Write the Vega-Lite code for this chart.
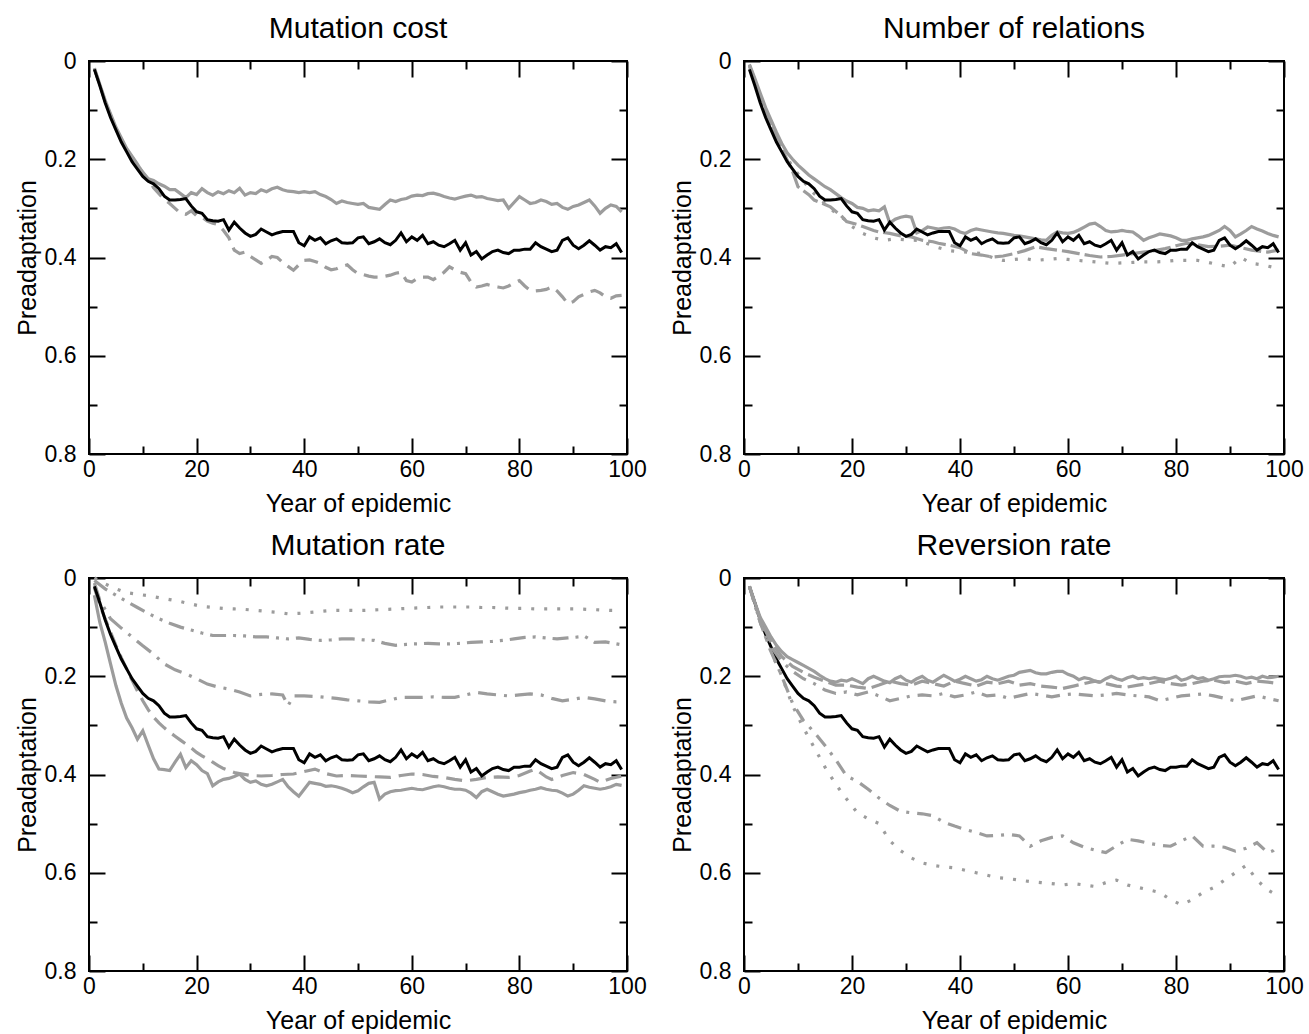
{
"$schema":"https://vega.github.io/schema/vega-lite/v6.json",
"padding":{"left":14,"top":13,"right":5,"bottom":0},
"config":{"font":"Liberation Sans","view":{"stroke":"black","strokeWidth":2},
"axis":{"domain":false,"grid":false,"tickColor":"black","tickWidth":2,"labelFont":"Liberation Sans","labelFontSize":23,"labelColor":"black","titleFont":"Liberation Sans","titleFontSize":25,"titleFontWeight":"normal","titleColor":"black","labelOverlap":false,"labelFlush":false},
"title":{"font":"Liberation Sans","fontSize":30,"fontWeight":"normal","color":"black","offset":6}},
"datasets":{
"base":[{"x":1,"y":0.017},{"x":2,"y":0.05},{"x":3,"y":0.085},{"x":4,"y":0.115},{"x":5,"y":0.14},{"x":6,"y":0.165},{"x":7,"y":0.185},{"x":8,"y":0.205},{"x":9,"y":0.22},{"x":10,"y":0.235},{"x":11,"y":0.245},{"x":12,"y":0.25},{"x":13,"y":0.26},{"x":14,"y":0.275},{"x":15,"y":0.283},{"x":16,"y":0.283},{"x":17,"y":0.282},{"x":18,"y":0.28},{"x":19,"y":0.295},{"x":20,"y":0.307},{"x":21,"y":0.31},{"x":22,"y":0.323},{"x":23,"y":0.325},{"x":24,"y":0.326},{"x":25,"y":0.323},{"x":26,"y":0.344},{"x":27,"y":0.328},{"x":28,"y":0.34},{"x":29,"y":0.35},{"x":30,"y":0.357},{"x":31,"y":0.353},{"x":32,"y":0.342},{"x":33,"y":0.348},{"x":34,"y":0.354},{"x":35,"y":0.35},{"x":36,"y":0.347},{"x":37,"y":0.347},{"x":38,"y":0.347},{"x":39,"y":0.37},{"x":40,"y":0.376},{"x":41,"y":0.358},{"x":42,"y":0.365},{"x":43,"y":0.36},{"x":44,"y":0.372},{"x":45,"y":0.366},{"x":46,"y":0.362},{"x":47,"y":0.37},{"x":48,"y":0.371},{"x":49,"y":0.37},{"x":50,"y":0.36},{"x":51,"y":0.358},{"x":52,"y":0.372},{"x":53,"y":0.368},{"x":54,"y":0.362},{"x":55,"y":0.37},{"x":56,"y":0.374},{"x":57,"y":0.365},{"x":58,"y":0.35},{"x":59,"y":0.368},{"x":60,"y":0.358},{"x":61,"y":0.365},{"x":62,"y":0.355},{"x":63,"y":0.372},{"x":64,"y":0.368},{"x":65,"y":0.375},{"x":66,"y":0.378},{"x":67,"y":0.372},{"x":68,"y":0.365},{"x":69,"y":0.385},{"x":70,"y":0.37},{"x":71,"y":0.395},{"x":72,"y":0.388},{"x":73,"y":0.403},{"x":74,"y":0.395},{"x":75,"y":0.388},{"x":76,"y":0.385},{"x":77,"y":0.39},{"x":78,"y":0.392},{"x":79,"y":0.385},{"x":80,"y":0.385},{"x":81,"y":0.383},{"x":82,"y":0.383},{"x":83,"y":0.37},{"x":84,"y":0.378},{"x":85,"y":0.383},{"x":86,"y":0.388},{"x":87,"y":0.385},{"x":88,"y":0.365},{"x":89,"y":0.36},{"x":90,"y":0.375},{"x":91,"y":0.382},{"x":92,"y":0.375},{"x":93,"y":0.366},{"x":94,"y":0.375},{"x":95,"y":0.385},{"x":96,"y":0.378},{"x":97,"y":0.38},{"x":98,"y":0.372},{"x":99,"y":0.39}],
"p1":[
{"s":"a","x":1,"y":0.015},{"s":"a","x":3,"y":0.08},{"s":"a","x":5,"y":0.135},{"s":"a","x":7,"y":0.178},{"s":"a","x":9,"y":0.21},{"s":"a","x":10,"y":0.228},{"s":"a","x":11,"y":0.24},{"s":"a","x":12,"y":0.243},{"s":"a","x":13,"y":0.25},{"s":"a","x":14,"y":0.255},{"s":"a","x":15,"y":0.262},{"s":"a","x":16,"y":0.262},{"s":"a","x":17,"y":0.27},{"s":"a","x":18,"y":0.278},{"s":"a","x":19,"y":0.268},{"s":"a","x":20,"y":0.272},{"s":"a","x":21,"y":0.26},{"s":"a","x":22,"y":0.268},{"s":"a","x":23,"y":0.273},{"s":"a","x":24,"y":0.266},{"s":"a","x":25,"y":0.27},{"s":"a","x":26,"y":0.264},{"s":"a","x":27,"y":0.268},{"s":"a","x":28,"y":0.259},{"s":"a","x":29,"y":0.273},{"s":"a","x":30,"y":0.268},{"s":"a","x":31,"y":0.27},{"s":"a","x":32,"y":0.262},{"s":"a","x":33,"y":0.266},{"s":"a","x":34,"y":0.26},{"s":"a","x":35,"y":0.257},{"s":"a","x":36,"y":0.262},{"s":"a","x":37,"y":0.265},{"s":"a","x":38,"y":0.266},{"s":"a","x":39,"y":0.268},{"s":"a","x":40,"y":0.266},{"s":"a","x":41,"y":0.268},{"s":"a","x":42,"y":0.266},{"s":"a","x":43,"y":0.272},{"s":"a","x":44,"y":0.276},{"s":"a","x":45,"y":0.282},{"s":"a","x":46,"y":0.29},{"s":"a","x":47,"y":0.285},{"s":"a","x":48,"y":0.288},{"s":"a","x":49,"y":0.29},{"s":"a","x":50,"y":0.292},{"s":"a","x":51,"y":0.29},{"s":"a","x":52,"y":0.298},{"s":"a","x":53,"y":0.3},{"s":"a","x":54,"y":0.302},{"s":"a","x":55,"y":0.292},{"s":"a","x":56,"y":0.283},{"s":"a","x":57,"y":0.286},{"s":"a","x":58,"y":0.282},{"s":"a","x":59,"y":0.28},{"s":"a","x":60,"y":0.275},{"s":"a","x":61,"y":0.273},{"s":"a","x":62,"y":0.274},{"s":"a","x":63,"y":0.27},{"s":"a","x":64,"y":0.269},{"s":"a","x":65,"y":0.272},{"s":"a","x":66,"y":0.276},{"s":"a","x":67,"y":0.279},{"s":"a","x":68,"y":0.281},{"s":"a","x":69,"y":0.278},{"s":"a","x":70,"y":0.275},{"s":"a","x":71,"y":0.273},{"s":"a","x":72,"y":0.277},{"s":"a","x":73,"y":0.276},{"s":"a","x":74,"y":0.28},{"s":"a","x":75,"y":0.282},{"s":"a","x":76,"y":0.284},{"s":"a","x":77,"y":0.283},{"s":"a","x":78,"y":0.3},{"s":"a","x":79,"y":0.288},{"s":"a","x":80,"y":0.276},{"s":"a","x":81,"y":0.283},{"s":"a","x":82,"y":0.29},{"s":"a","x":83,"y":0.288},{"s":"a","x":84,"y":0.283},{"s":"a","x":85,"y":0.286},{"s":"a","x":86,"y":0.292},{"s":"a","x":87,"y":0.29},{"s":"a","x":88,"y":0.298},{"s":"a","x":89,"y":0.302},{"s":"a","x":90,"y":0.296},{"s":"a","x":91,"y":0.293},{"s":"a","x":92,"y":0.288},{"s":"a","x":93,"y":0.283},{"s":"a","x":94,"y":0.295},{"s":"a","x":95,"y":0.31},{"s":"a","x":96,"y":0.3},{"s":"a","x":97,"y":0.293},{"s":"a","x":98,"y":0.296},{"s":"a","x":99,"y":0.307},
{"s":"b","x":1,"y":0.015},{"s":"b","x":3,"y":0.082},{"s":"b","x":5,"y":0.138},{"s":"b","x":7,"y":0.18},{"s":"b","x":9,"y":0.212},{"s":"b","x":11,"y":0.24},{"s":"b","x":12,"y":0.258},{"s":"b","x":13,"y":0.27},{"s":"b","x":14,"y":0.282},{"s":"b","x":15,"y":0.29},{"s":"b","x":16,"y":0.3},{"s":"b","x":17,"y":0.31},{"s":"b","x":18,"y":0.312},{"s":"b","x":19,"y":0.305},{"s":"b","x":20,"y":0.315},{"s":"b","x":21,"y":0.318},{"s":"b","x":22,"y":0.326},{"s":"b","x":23,"y":0.33},{"s":"b","x":24,"y":0.333},{"s":"b","x":25,"y":0.345},{"s":"b","x":26,"y":0.36},{"s":"b","x":27,"y":0.385},{"s":"b","x":28,"y":0.392},{"s":"b","x":29,"y":0.389},{"s":"b","x":30,"y":0.398},{"s":"b","x":31,"y":0.405},{"s":"b","x":32,"y":0.412},{"s":"b","x":33,"y":0.406},{"s":"b","x":34,"y":0.398},{"s":"b","x":35,"y":0.4},{"s":"b","x":36,"y":0.41},{"s":"b","x":37,"y":0.418},{"s":"b","x":38,"y":0.426},{"s":"b","x":39,"y":0.415},{"s":"b","x":40,"y":0.406},{"s":"b","x":41,"y":0.405},{"s":"b","x":42,"y":0.408},{"s":"b","x":43,"y":0.412},{"s":"b","x":44,"y":0.42},{"s":"b","x":45,"y":0.425},{"s":"b","x":46,"y":0.423},{"s":"b","x":47,"y":0.418},{"s":"b","x":48,"y":0.415},{"s":"b","x":49,"y":0.425},{"s":"b","x":50,"y":0.433},{"s":"b","x":51,"y":0.435},{"s":"b","x":52,"y":0.438},{"s":"b","x":53,"y":0.44},{"s":"b","x":54,"y":0.44},{"s":"b","x":55,"y":0.438},{"s":"b","x":56,"y":0.436},{"s":"b","x":57,"y":0.432},{"s":"b","x":58,"y":0.43},{"s":"b","x":59,"y":0.447},{"s":"b","x":60,"y":0.45},{"s":"b","x":61,"y":0.443},{"s":"b","x":62,"y":0.44},{"s":"b","x":63,"y":0.44},{"s":"b","x":64,"y":0.445},{"s":"b","x":65,"y":0.438},{"s":"b","x":66,"y":0.43},{"s":"b","x":67,"y":0.419},{"s":"b","x":68,"y":0.425},{"s":"b","x":69,"y":0.43},{"s":"b","x":70,"y":0.433},{"s":"b","x":71,"y":0.45},{"s":"b","x":72,"y":0.46},{"s":"b","x":73,"y":0.458},{"s":"b","x":74,"y":0.455},{"s":"b","x":75,"y":0.458},{"s":"b","x":76,"y":0.46},{"s":"b","x":77,"y":0.462},{"s":"b","x":78,"y":0.458},{"s":"b","x":79,"y":0.452},{"s":"b","x":80,"y":0.447},{"s":"b","x":81,"y":0.458},{"s":"b","x":82,"y":0.467},{"s":"b","x":83,"y":0.468},{"s":"b","x":84,"y":0.467},{"s":"b","x":85,"y":0.465},{"s":"b","x":86,"y":0.46},{"s":"b","x":87,"y":0.468},{"s":"b","x":88,"y":0.48},{"s":"b","x":89,"y":0.494},{"s":"b","x":90,"y":0.49},{"s":"b","x":91,"y":0.48},{"s":"b","x":92,"y":0.475},{"s":"b","x":93,"y":0.47},{"s":"b","x":94,"y":0.467},{"s":"b","x":95,"y":0.472},{"s":"b","x":96,"y":0.48},{"s":"b","x":97,"y":0.483},{"s":"b","x":98,"y":0.478},{"s":"b","x":99,"y":0.477}],
"p2":[
{"s":"a","x":1,"y":0.007},{"s":"a","x":2,"y":0.035},{"s":"a","x":3,"y":0.065},{"s":"a","x":4,"y":0.095},{"s":"a","x":5,"y":0.12},{"s":"a","x":6,"y":0.145},{"s":"a","x":7,"y":0.168},{"s":"a","x":8,"y":0.187},{"s":"a","x":9,"y":0.2},{"s":"a","x":10,"y":0.212},{"s":"a","x":11,"y":0.222},{"s":"a","x":12,"y":0.232},{"s":"a","x":13,"y":0.24},{"s":"a","x":14,"y":0.248},{"s":"a","x":15,"y":0.256},{"s":"a","x":16,"y":0.262},{"s":"a","x":17,"y":0.27},{"s":"a","x":18,"y":0.278},{"s":"a","x":19,"y":0.285},{"s":"a","x":20,"y":0.29},{"s":"a","x":21,"y":0.298},{"s":"a","x":22,"y":0.3},{"s":"a","x":23,"y":0.305},{"s":"a","x":24,"y":0.303},{"s":"a","x":25,"y":0.305},{"s":"a","x":26,"y":0.297},{"s":"a","x":27,"y":0.33},{"s":"a","x":28,"y":0.322},{"s":"a","x":29,"y":0.318},{"s":"a","x":30,"y":0.316},{"s":"a","x":31,"y":0.318},{"s":"a","x":32,"y":0.35},{"s":"a","x":33,"y":0.345},{"s":"a","x":34,"y":0.338},{"s":"a","x":35,"y":0.34},{"s":"a","x":36,"y":0.342},{"s":"a","x":37,"y":0.34},{"s":"a","x":38,"y":0.339},{"s":"a","x":39,"y":0.342},{"s":"a","x":40,"y":0.348},{"s":"a","x":41,"y":0.351},{"s":"a","x":42,"y":0.345},{"s":"a","x":43,"y":0.342},{"s":"a","x":44,"y":0.344},{"s":"a","x":45,"y":0.346},{"s":"a","x":46,"y":0.348},{"s":"a","x":47,"y":0.35},{"s":"a","x":48,"y":0.351},{"s":"a","x":49,"y":0.353},{"s":"a","x":50,"y":0.355},{"s":"a","x":51,"y":0.356},{"s":"a","x":52,"y":0.358},{"s":"a","x":53,"y":0.36},{"s":"a","x":54,"y":0.362},{"s":"a","x":55,"y":0.364},{"s":"a","x":56,"y":0.365},{"s":"a","x":57,"y":0.355},{"s":"a","x":58,"y":0.348},{"s":"a","x":59,"y":0.35},{"s":"a","x":60,"y":0.351},{"s":"a","x":61,"y":0.349},{"s":"a","x":62,"y":0.344},{"s":"a","x":63,"y":0.338},{"s":"a","x":64,"y":0.332},{"s":"a","x":65,"y":0.33},{"s":"a","x":66,"y":0.337},{"s":"a","x":67,"y":0.345},{"s":"a","x":68,"y":0.348},{"s":"a","x":69,"y":0.347},{"s":"a","x":70,"y":0.345},{"s":"a","x":71,"y":0.347},{"s":"a","x":72,"y":0.348},{"s":"a","x":73,"y":0.356},{"s":"a","x":74,"y":0.365},{"s":"a","x":75,"y":0.36},{"s":"a","x":76,"y":0.356},{"s":"a","x":77,"y":0.352},{"s":"a","x":78,"y":0.354},{"s":"a","x":79,"y":0.356},{"s":"a","x":80,"y":0.36},{"s":"a","x":81,"y":0.365},{"s":"a","x":82,"y":0.365},{"s":"a","x":83,"y":0.362},{"s":"a","x":84,"y":0.36},{"s":"a","x":85,"y":0.358},{"s":"a","x":86,"y":0.355},{"s":"a","x":87,"y":0.35},{"s":"a","x":88,"y":0.345},{"s":"a","x":89,"y":0.337},{"s":"a","x":90,"y":0.345},{"s":"a","x":91,"y":0.358},{"s":"a","x":92,"y":0.352},{"s":"a","x":93,"y":0.345},{"s":"a","x":94,"y":0.337},{"s":"a","x":95,"y":0.342},{"s":"a","x":96,"y":0.346},{"s":"a","x":97,"y":0.351},{"s":"a","x":98,"y":0.355},{"s":"a","x":99,"y":0.358},
{"s":"b","x":1,"y":0.008},{"s":"b","x":3,"y":0.07},{"s":"b","x":5,"y":0.13},{"s":"b","x":7,"y":0.178},{"s":"b","x":9,"y":0.225},{"s":"b","x":10,"y":0.256},{"s":"b","x":12,"y":0.272},{"s":"b","x":13,"y":0.283},{"s":"b","x":15,"y":0.292},{"s":"b","x":16,"y":0.297},{"s":"b","x":18,"y":0.315},{"s":"b","x":19,"y":0.327},{"s":"b","x":21,"y":0.333},{"s":"b","x":22,"y":0.337},{"s":"b","x":24,"y":0.345},{"s":"b","x":25,"y":0.348},{"s":"b","x":27,"y":0.351},{"s":"b","x":29,"y":0.356},{"s":"b","x":31,"y":0.358},{"s":"b","x":33,"y":0.365},{"s":"b","x":35,"y":0.368},{"s":"b","x":36,"y":0.371},{"s":"b","x":38,"y":0.375},{"s":"b","x":40,"y":0.38},{"s":"b","x":42,"y":0.392},{"s":"b","x":44,"y":0.395},{"s":"b","x":46,"y":0.399},{"s":"b","x":48,"y":0.397},{"s":"b","x":50,"y":0.392},{"s":"b","x":52,"y":0.386},{"s":"b","x":54,"y":0.378},{"s":"b","x":56,"y":0.382},{"s":"b","x":58,"y":0.385},{"s":"b","x":60,"y":0.388},{"s":"b","x":62,"y":0.392},{"s":"b","x":64,"y":0.396},{"s":"b","x":66,"y":0.399},{"s":"b","x":68,"y":0.398},{"s":"b","x":70,"y":0.395},{"s":"b","x":72,"y":0.392},{"s":"b","x":74,"y":0.389},{"s":"b","x":76,"y":0.386},{"s":"b","x":78,"y":0.382},{"s":"b","x":80,"y":0.376},{"s":"b","x":82,"y":0.371},{"s":"b","x":84,"y":0.374},{"s":"b","x":86,"y":0.378},{"s":"b","x":88,"y":0.377},{"s":"b","x":90,"y":0.375},{"s":"b","x":92,"y":0.38},{"s":"b","x":94,"y":0.385},{"s":"b","x":96,"y":0.388},{"s":"b","x":97,"y":0.389},{"s":"b","x":99,"y":0.385},
{"s":"c","x":1,"y":0.01},{"s":"c","x":3,"y":0.075},{"s":"c","x":5,"y":0.135},{"s":"c","x":7,"y":0.18},{"s":"c","x":9,"y":0.215},{"s":"c","x":11,"y":0.245},{"s":"c","x":13,"y":0.27},{"s":"c","x":15,"y":0.29},{"s":"c","x":17,"y":0.31},{"s":"c","x":19,"y":0.325},{"s":"c","x":20,"y":0.337},{"s":"c","x":22,"y":0.351},{"s":"c","x":24,"y":0.36},{"s":"c","x":26,"y":0.365},{"s":"c","x":28,"y":0.362},{"s":"c","x":30,"y":0.364},{"s":"c","x":32,"y":0.365},{"s":"c","x":34,"y":0.372},{"s":"c","x":36,"y":0.38},{"s":"c","x":38,"y":0.386},{"s":"c","x":40,"y":0.388},{"s":"c","x":42,"y":0.39},{"s":"c","x":44,"y":0.392},{"s":"c","x":46,"y":0.4},{"s":"c","x":48,"y":0.406},{"s":"c","x":50,"y":0.404},{"s":"c","x":52,"y":0.402},{"s":"c","x":54,"y":0.406},{"s":"c","x":56,"y":0.404},{"s":"c","x":58,"y":0.402},{"s":"c","x":60,"y":0.404},{"s":"c","x":62,"y":0.406},{"s":"c","x":64,"y":0.408},{"s":"c","x":66,"y":0.41},{"s":"c","x":68,"y":0.412},{"s":"c","x":70,"y":0.411},{"s":"c","x":72,"y":0.41},{"s":"c","x":74,"y":0.409},{"s":"c","x":76,"y":0.409},{"s":"c","x":78,"y":0.408},{"s":"c","x":80,"y":0.406},{"s":"c","x":82,"y":0.406},{"s":"c","x":84,"y":0.406},{"s":"c","x":86,"y":0.41},{"s":"c","x":88,"y":0.415},{"s":"c","x":90,"y":0.419},{"s":"c","x":92,"y":0.4},{"s":"c","x":94,"y":0.412},{"s":"c","x":96,"y":0.415},{"s":"c","x":98,"y":0.42},{"s":"c","x":99,"y":0.426}],
"p3":[
{"s":"a","x":1,"y":0.0},{"s":"a","x":3,"y":0.012},{"s":"a","x":5,"y":0.022},{"s":"a","x":7,"y":0.03},{"s":"a","x":9,"y":0.033},{"s":"a","x":11,"y":0.036},{"s":"a","x":13,"y":0.04},{"s":"a","x":15,"y":0.044},{"s":"a","x":17,"y":0.048},{"s":"a","x":19,"y":0.053},{"s":"a","x":21,"y":0.058},{"s":"a","x":23,"y":0.06},{"s":"a","x":25,"y":0.062},{"s":"a","x":27,"y":0.063},{"s":"a","x":29,"y":0.064},{"s":"a","x":31,"y":0.066},{"s":"a","x":33,"y":0.068},{"s":"a","x":35,"y":0.07},{"s":"a","x":37,"y":0.073},{"s":"a","x":39,"y":0.072},{"s":"a","x":41,"y":0.07},{"s":"a","x":43,"y":0.068},{"s":"a","x":45,"y":0.066},{"s":"a","x":47,"y":0.066},{"s":"a","x":49,"y":0.066},{"s":"a","x":51,"y":0.066},{"s":"a","x":53,"y":0.065},{"s":"a","x":55,"y":0.064},{"s":"a","x":57,"y":0.063},{"s":"a","x":59,"y":0.062},{"s":"a","x":61,"y":0.061},{"s":"a","x":63,"y":0.06},{"s":"a","x":65,"y":0.059},{"s":"a","x":67,"y":0.059},{"s":"a","x":69,"y":0.059},{"s":"a","x":71,"y":0.059},{"s":"a","x":73,"y":0.06},{"s":"a","x":75,"y":0.06},{"s":"a","x":77,"y":0.061},{"s":"a","x":79,"y":0.062},{"s":"a","x":81,"y":0.062},{"s":"a","x":83,"y":0.063},{"s":"a","x":85,"y":0.063},{"s":"a","x":87,"y":0.063},{"s":"a","x":89,"y":0.063},{"s":"a","x":91,"y":0.063},{"s":"a","x":93,"y":0.064},{"s":"a","x":95,"y":0.065},{"s":"a","x":97,"y":0.066},{"s":"a","x":99,"y":0.066},
{"s":"b","x":1,"y":0.005},{"s":"b","x":3,"y":0.022},{"s":"b","x":5,"y":0.035},{"s":"b","x":7,"y":0.048},{"s":"b","x":9,"y":0.06},{"s":"b","x":11,"y":0.072},{"s":"b","x":13,"y":0.083},{"s":"b","x":15,"y":0.092},{"s":"b","x":17,"y":0.1},{"s":"b","x":19,"y":0.106},{"s":"b","x":21,"y":0.112},{"s":"b","x":23,"y":0.117},{"s":"b","x":25,"y":0.117},{"s":"b","x":27,"y":0.117},{"s":"b","x":29,"y":0.118},{"s":"b","x":31,"y":0.12},{"s":"b","x":33,"y":0.12},{"s":"b","x":35,"y":0.122},{"s":"b","x":37,"y":0.124},{"s":"b","x":39,"y":0.122},{"s":"b","x":41,"y":0.125},{"s":"b","x":43,"y":0.127},{"s":"b","x":45,"y":0.126},{"s":"b","x":47,"y":0.124},{"s":"b","x":49,"y":0.124},{"s":"b","x":51,"y":0.126},{"s":"b","x":53,"y":0.127},{"s":"b","x":55,"y":0.133},{"s":"b","x":57,"y":0.137},{"s":"b","x":59,"y":0.135},{"s":"b","x":61,"y":0.134},{"s":"b","x":63,"y":0.133},{"s":"b","x":65,"y":0.134},{"s":"b","x":67,"y":0.134},{"s":"b","x":69,"y":0.133},{"s":"b","x":71,"y":0.131},{"s":"b","x":73,"y":0.13},{"s":"b","x":75,"y":0.129},{"s":"b","x":77,"y":0.127},{"s":"b","x":79,"y":0.124},{"s":"b","x":81,"y":0.121},{"s":"b","x":83,"y":0.12},{"s":"b","x":85,"y":0.122},{"s":"b","x":87,"y":0.124},{"s":"b","x":89,"y":0.122},{"s":"b","x":91,"y":0.12},{"s":"b","x":92,"y":0.118},{"s":"b","x":94,"y":0.131},{"s":"b","x":96,"y":0.13},{"s":"b","x":98,"y":0.134},{"s":"b","x":99,"y":0.136},
{"s":"c","x":1,"y":0.01},{"s":"c","x":2,"y":0.045},{"s":"c","x":4,"y":0.083},{"s":"c","x":6,"y":0.102},{"s":"c","x":8,"y":0.12},{"s":"c","x":10,"y":0.138},{"s":"c","x":12,"y":0.155},{"s":"c","x":14,"y":0.175},{"s":"c","x":16,"y":0.187},{"s":"c","x":18,"y":0.195},{"s":"c","x":20,"y":0.205},{"s":"c","x":22,"y":0.216},{"s":"c","x":24,"y":0.222},{"s":"c","x":26,"y":0.226},{"s":"c","x":28,"y":0.232},{"s":"c","x":30,"y":0.24},{"s":"c","x":32,"y":0.237},{"s":"c","x":34,"y":0.236},{"s":"c","x":36,"y":0.238},{"s":"c","x":37,"y":0.26},{"s":"c","x":38,"y":0.24},{"s":"c","x":40,"y":0.24},{"s":"c","x":42,"y":0.241},{"s":"c","x":44,"y":0.243},{"s":"c","x":46,"y":0.245},{"s":"c","x":48,"y":0.248},{"s":"c","x":50,"y":0.25},{"s":"c","x":52,"y":0.252},{"s":"c","x":54,"y":0.253},{"s":"c","x":56,"y":0.248},{"s":"c","x":58,"y":0.243},{"s":"c","x":60,"y":0.243},{"s":"c","x":62,"y":0.243},{"s":"c","x":64,"y":0.242},{"s":"c","x":66,"y":0.243},{"s":"c","x":68,"y":0.243},{"s":"c","x":70,"y":0.238},{"s":"c","x":72,"y":0.233},{"s":"c","x":74,"y":0.236},{"s":"c","x":76,"y":0.238},{"s":"c","x":78,"y":0.24},{"s":"c","x":80,"y":0.238},{"s":"c","x":82,"y":0.236},{"s":"c","x":84,"y":0.238},{"s":"c","x":86,"y":0.245},{"s":"c","x":88,"y":0.25},{"s":"c","x":90,"y":0.247},{"s":"c","x":92,"y":0.243},{"s":"c","x":94,"y":0.246},{"s":"c","x":96,"y":0.25},{"s":"c","x":98,"y":0.252},{"s":"c","x":99,"y":0.252},
{"s":"d","x":1,"y":0.02},{"s":"d","x":2,"y":0.055},{"s":"d","x":3,"y":0.083},{"s":"d","x":4,"y":0.11},{"s":"d","x":5,"y":0.137},{"s":"d","x":6,"y":0.162},{"s":"d","x":7,"y":0.185},{"s":"d","x":8,"y":0.208},{"s":"d","x":9,"y":0.23},{"s":"d","x":10,"y":0.25},{"s":"d","x":11,"y":0.268},{"s":"d","x":12,"y":0.283},{"s":"d","x":13,"y":0.295},{"s":"d","x":14,"y":0.305},{"s":"d","x":15,"y":0.314},{"s":"d","x":16,"y":0.322},{"s":"d","x":17,"y":0.33},{"s":"d","x":18,"y":0.338},{"s":"d","x":19,"y":0.346},{"s":"d","x":20,"y":0.355},{"s":"d","x":21,"y":0.362},{"s":"d","x":22,"y":0.368},{"s":"d","x":23,"y":0.375},{"s":"d","x":24,"y":0.382},{"s":"d","x":25,"y":0.388},{"s":"d","x":26,"y":0.392},{"s":"d","x":27,"y":0.396},{"s":"d","x":28,"y":0.398},{"s":"d","x":30,"y":0.402},{"s":"d","x":32,"y":0.403},{"s":"d","x":34,"y":0.402},{"s":"d","x":36,"y":0.4},{"s":"d","x":38,"y":0.399},{"s":"d","x":40,"y":0.394},{"s":"d","x":42,"y":0.389},{"s":"d","x":44,"y":0.398},{"s":"d","x":46,"y":0.403},{"s":"d","x":48,"y":0.402},{"s":"d","x":50,"y":0.403},{"s":"d","x":52,"y":0.404},{"s":"d","x":54,"y":0.405},{"s":"d","x":56,"y":0.406},{"s":"d","x":58,"y":0.402},{"s":"d","x":60,"y":0.399},{"s":"d","x":62,"y":0.4},{"s":"d","x":64,"y":0.404},{"s":"d","x":66,"y":0.406},{"s":"d","x":68,"y":0.41},{"s":"d","x":70,"y":0.413},{"s":"d","x":72,"y":0.41},{"s":"d","x":74,"y":0.406},{"s":"d","x":76,"y":0.405},{"s":"d","x":78,"y":0.406},{"s":"d","x":80,"y":0.402},{"s":"d","x":82,"y":0.393},{"s":"d","x":83,"y":0.389},{"s":"d","x":85,"y":0.405},{"s":"d","x":86,"y":0.41},{"s":"d","x":88,"y":0.402},{"s":"d","x":90,"y":0.396},{"s":"d","x":92,"y":0.4},{"s":"d","x":94,"y":0.41},{"s":"d","x":95,"y":0.416},{"s":"d","x":97,"y":0.408},{"s":"d","x":99,"y":0.403},
{"s":"e","x":1,"y":0.035},{"s":"e","x":2,"y":0.09},{"s":"e","x":3,"y":0.13},{"s":"e","x":4,"y":0.175},{"s":"e","x":5,"y":0.219},{"s":"e","x":6,"y":0.255},{"s":"e","x":7,"y":0.285},{"s":"e","x":8,"y":0.305},{"s":"e","x":9,"y":0.328},{"s":"e","x":10,"y":0.311},{"s":"e","x":11,"y":0.34},{"s":"e","x":12,"y":0.368},{"s":"e","x":13,"y":0.389},{"s":"e","x":14,"y":0.39},{"s":"e","x":15,"y":0.392},{"s":"e","x":16,"y":0.375},{"s":"e","x":17,"y":0.359},{"s":"e","x":18,"y":0.386},{"s":"e","x":19,"y":0.372},{"s":"e","x":20,"y":0.38},{"s":"e","x":21,"y":0.392},{"s":"e","x":22,"y":0.398},{"s":"e","x":23,"y":0.423},{"s":"e","x":24,"y":0.415},{"s":"e","x":25,"y":0.41},{"s":"e","x":26,"y":0.408},{"s":"e","x":27,"y":0.404},{"s":"e","x":28,"y":0.399},{"s":"e","x":29,"y":0.41},{"s":"e","x":30,"y":0.416},{"s":"e","x":31,"y":0.413},{"s":"e","x":32,"y":0.42},{"s":"e","x":33,"y":0.423},{"s":"e","x":34,"y":0.42},{"s":"e","x":35,"y":0.415},{"s":"e","x":36,"y":0.41},{"s":"e","x":37,"y":0.425},{"s":"e","x":38,"y":0.435},{"s":"e","x":39,"y":0.444},{"s":"e","x":40,"y":0.43},{"s":"e","x":41,"y":0.416},{"s":"e","x":42,"y":0.418},{"s":"e","x":43,"y":0.42},{"s":"e","x":44,"y":0.424},{"s":"e","x":45,"y":0.423},{"s":"e","x":46,"y":0.425},{"s":"e","x":47,"y":0.428},{"s":"e","x":48,"y":0.432},{"s":"e","x":49,"y":0.437},{"s":"e","x":50,"y":0.433},{"s":"e","x":51,"y":0.425},{"s":"e","x":52,"y":0.418},{"s":"e","x":53,"y":0.416},{"s":"e","x":54,"y":0.45},{"s":"e","x":55,"y":0.44},{"s":"e","x":56,"y":0.435},{"s":"e","x":57,"y":0.433},{"s":"e","x":58,"y":0.432},{"s":"e","x":59,"y":0.43},{"s":"e","x":60,"y":0.428},{"s":"e","x":61,"y":0.43},{"s":"e","x":62,"y":0.431},{"s":"e","x":63,"y":0.428},{"s":"e","x":64,"y":0.425},{"s":"e","x":65,"y":0.423},{"s":"e","x":66,"y":0.425},{"s":"e","x":67,"y":0.428},{"s":"e","x":68,"y":0.43},{"s":"e","x":69,"y":0.43},{"s":"e","x":70,"y":0.432},{"s":"e","x":71,"y":0.438},{"s":"e","x":72,"y":0.447},{"s":"e","x":73,"y":0.435},{"s":"e","x":74,"y":0.43},{"s":"e","x":75,"y":0.435},{"s":"e","x":76,"y":0.44},{"s":"e","x":77,"y":0.444},{"s":"e","x":78,"y":0.442},{"s":"e","x":79,"y":0.44},{"s":"e","x":80,"y":0.437},{"s":"e","x":81,"y":0.435},{"s":"e","x":82,"y":0.432},{"s":"e","x":83,"y":0.43},{"s":"e","x":84,"y":0.427},{"s":"e","x":85,"y":0.43},{"s":"e","x":86,"y":0.432},{"s":"e","x":87,"y":0.433},{"s":"e","x":88,"y":0.438},{"s":"e","x":89,"y":0.444},{"s":"e","x":90,"y":0.44},{"s":"e","x":91,"y":0.432},{"s":"e","x":92,"y":0.423},{"s":"e","x":93,"y":0.426},{"s":"e","x":94,"y":0.428},{"s":"e","x":95,"y":0.43},{"s":"e","x":96,"y":0.428},{"s":"e","x":97,"y":0.425},{"s":"e","x":98,"y":0.42},{"s":"e","x":99,"y":0.422}],
"p4":[
{"s":"a","x":1,"y":0.017},{"s":"a","x":2,"y":0.05},{"s":"a","x":3,"y":0.08},{"s":"a","x":4,"y":0.1},{"s":"a","x":5,"y":0.12},{"s":"a","x":6,"y":0.137},{"s":"a","x":7,"y":0.15},{"s":"a","x":8,"y":0.16},{"s":"a","x":9,"y":0.166},{"s":"a","x":10,"y":0.172},{"s":"a","x":11,"y":0.178},{"s":"a","x":12,"y":0.184},{"s":"a","x":13,"y":0.19},{"s":"a","x":14,"y":0.198},{"s":"a","x":15,"y":0.205},{"s":"a","x":16,"y":0.21},{"s":"a","x":17,"y":0.212},{"s":"a","x":18,"y":0.208},{"s":"a","x":19,"y":0.21},{"s":"a","x":20,"y":0.205},{"s":"a","x":21,"y":0.21},{"s":"a","x":22,"y":0.215},{"s":"a","x":23,"y":0.205},{"s":"a","x":24,"y":0.2},{"s":"a","x":25,"y":0.205},{"s":"a","x":26,"y":0.21},{"s":"a","x":27,"y":0.213},{"s":"a","x":28,"y":0.205},{"s":"a","x":29,"y":0.2},{"s":"a","x":30,"y":0.208},{"s":"a","x":31,"y":0.212},{"s":"a","x":32,"y":0.205},{"s":"a","x":33,"y":0.2},{"s":"a","x":34,"y":0.208},{"s":"a","x":35,"y":0.212},{"s":"a","x":36,"y":0.205},{"s":"a","x":37,"y":0.198},{"s":"a","x":38,"y":0.204},{"s":"a","x":39,"y":0.21},{"s":"a","x":40,"y":0.206},{"s":"a","x":41,"y":0.2},{"s":"a","x":42,"y":0.205},{"s":"a","x":43,"y":0.21},{"s":"a","x":44,"y":0.207},{"s":"a","x":45,"y":0.2},{"s":"a","x":46,"y":0.205},{"s":"a","x":47,"y":0.208},{"s":"a","x":48,"y":0.204},{"s":"a","x":49,"y":0.2},{"s":"a","x":50,"y":0.198},{"s":"a","x":51,"y":0.192},{"s":"a","x":52,"y":0.19},{"s":"a","x":53,"y":0.188},{"s":"a","x":54,"y":0.193},{"s":"a","x":55,"y":0.195},{"s":"a","x":56,"y":0.195},{"s":"a","x":57,"y":0.192},{"s":"a","x":58,"y":0.19},{"s":"a","x":59,"y":0.19},{"s":"a","x":60,"y":0.196},{"s":"a","x":61,"y":0.2},{"s":"a","x":62,"y":0.207},{"s":"a","x":63,"y":0.203},{"s":"a","x":64,"y":0.205},{"s":"a","x":65,"y":0.21},{"s":"a","x":66,"y":0.212},{"s":"a","x":67,"y":0.205},{"s":"a","x":68,"y":0.2},{"s":"a","x":69,"y":0.205},{"s":"a","x":70,"y":0.208},{"s":"a","x":71,"y":0.203},{"s":"a","x":72,"y":0.2},{"s":"a","x":73,"y":0.205},{"s":"a","x":74,"y":0.203},{"s":"a","x":75,"y":0.205},{"s":"a","x":76,"y":0.203},{"s":"a","x":77,"y":0.205},{"s":"a","x":78,"y":0.207},{"s":"a","x":79,"y":0.204},{"s":"a","x":80,"y":0.2},{"s":"a","x":81,"y":0.208},{"s":"a","x":82,"y":0.205},{"s":"a","x":83,"y":0.2},{"s":"a","x":84,"y":0.205},{"s":"a","x":85,"y":0.203},{"s":"a","x":86,"y":0.208},{"s":"a","x":87,"y":0.205},{"s":"a","x":88,"y":0.201},{"s":"a","x":89,"y":0.2},{"s":"a","x":90,"y":0.2},{"s":"a","x":91,"y":0.198},{"s":"a","x":92,"y":0.2},{"s":"a","x":93,"y":0.204},{"s":"a","x":94,"y":0.202},{"s":"a","x":95,"y":0.205},{"s":"a","x":96,"y":0.2},{"s":"a","x":97,"y":0.203},{"s":"a","x":98,"y":0.202},{"s":"a","x":99,"y":0.2},
{"s":"b","x":1,"y":0.017},{"s":"b","x":3,"y":0.085},{"s":"b","x":5,"y":0.13},{"s":"b","x":7,"y":0.16},{"s":"b","x":9,"y":0.18},{"s":"b","x":11,"y":0.192},{"s":"b","x":13,"y":0.202},{"s":"b","x":15,"y":0.21},{"s":"b","x":17,"y":0.218},{"s":"b","x":19,"y":0.218},{"s":"b","x":21,"y":0.222},{"s":"b","x":23,"y":0.225},{"s":"b","x":25,"y":0.218},{"s":"b","x":27,"y":0.21},{"s":"b","x":29,"y":0.215},{"s":"b","x":31,"y":0.218},{"s":"b","x":33,"y":0.21},{"s":"b","x":35,"y":0.215},{"s":"b","x":37,"y":0.22},{"s":"b","x":39,"y":0.21},{"s":"b","x":41,"y":0.215},{"s":"b","x":43,"y":0.22},{"s":"b","x":45,"y":0.212},{"s":"b","x":47,"y":0.215},{"s":"b","x":49,"y":0.21},{"s":"b","x":51,"y":0.218},{"s":"b","x":53,"y":0.215},{"s":"b","x":55,"y":0.22},{"s":"b","x":57,"y":0.222},{"s":"b","x":59,"y":0.225},{"s":"b","x":61,"y":0.22},{"s":"b","x":63,"y":0.215},{"s":"b","x":65,"y":0.21},{"s":"b","x":67,"y":0.215},{"s":"b","x":69,"y":0.22},{"s":"b","x":71,"y":0.222},{"s":"b","x":73,"y":0.218},{"s":"b","x":75,"y":0.215},{"s":"b","x":77,"y":0.21},{"s":"b","x":79,"y":0.215},{"s":"b","x":81,"y":0.218},{"s":"b","x":83,"y":0.215},{"s":"b","x":85,"y":0.21},{"s":"b","x":87,"y":0.208},{"s":"b","x":89,"y":0.213},{"s":"b","x":91,"y":0.21},{"s":"b","x":93,"y":0.215},{"s":"b","x":95,"y":0.21},{"s":"b","x":97,"y":0.212},{"s":"b","x":99,"y":0.215},
{"s":"c","x":1,"y":0.017},{"s":"c","x":3,"y":0.09},{"s":"c","x":5,"y":0.14},{"s":"c","x":7,"y":0.17},{"s":"c","x":9,"y":0.19},{"s":"c","x":11,"y":0.205},{"s":"c","x":13,"y":0.215},{"s":"c","x":15,"y":0.228},{"s":"c","x":17,"y":0.235},{"s":"c","x":19,"y":0.232},{"s":"c","x":21,"y":0.238},{"s":"c","x":23,"y":0.232},{"s":"c","x":25,"y":0.24},{"s":"c","x":27,"y":0.25},{"s":"c","x":29,"y":0.245},{"s":"c","x":31,"y":0.24},{"s":"c","x":33,"y":0.238},{"s":"c","x":35,"y":0.24},{"s":"c","x":37,"y":0.235},{"s":"c","x":39,"y":0.242},{"s":"c","x":41,"y":0.238},{"s":"c","x":43,"y":0.232},{"s":"c","x":45,"y":0.24},{"s":"c","x":47,"y":0.238},{"s":"c","x":49,"y":0.245},{"s":"c","x":51,"y":0.24},{"s":"c","x":53,"y":0.235},{"s":"c","x":55,"y":0.238},{"s":"c","x":57,"y":0.242},{"s":"c","x":59,"y":0.238},{"s":"c","x":61,"y":0.236},{"s":"c","x":63,"y":0.238},{"s":"c","x":65,"y":0.24},{"s":"c","x":67,"y":0.238},{"s":"c","x":69,"y":0.235},{"s":"c","x":71,"y":0.238},{"s":"c","x":73,"y":0.24},{"s":"c","x":75,"y":0.242},{"s":"c","x":77,"y":0.25},{"s":"c","x":79,"y":0.245},{"s":"c","x":81,"y":0.24},{"s":"c","x":83,"y":0.238},{"s":"c","x":85,"y":0.236},{"s":"c","x":87,"y":0.24},{"s":"c","x":89,"y":0.245},{"s":"c","x":91,"y":0.25},{"s":"c","x":93,"y":0.245},{"s":"c","x":95,"y":0.24},{"s":"c","x":97,"y":0.245},{"s":"c","x":99,"y":0.25},
{"s":"d","x":1,"y":0.017},{"s":"d","x":3,"y":0.09},{"s":"d","x":5,"y":0.15},{"s":"d","x":7,"y":0.2},{"s":"d","x":9,"y":0.255},{"s":"d","x":11,"y":0.29},{"s":"d","x":13,"y":0.314},{"s":"d","x":15,"y":0.341},{"s":"d","x":17,"y":0.37},{"s":"d","x":19,"y":0.403},{"s":"d","x":21,"y":0.414},{"s":"d","x":23,"y":0.43},{"s":"d","x":25,"y":0.448},{"s":"d","x":27,"y":0.463},{"s":"d","x":29,"y":0.475},{"s":"d","x":31,"y":0.478},{"s":"d","x":33,"y":0.48},{"s":"d","x":35,"y":0.484},{"s":"d","x":37,"y":0.497},{"s":"d","x":39,"y":0.505},{"s":"d","x":41,"y":0.512},{"s":"d","x":43,"y":0.518},{"s":"d","x":45,"y":0.525},{"s":"d","x":47,"y":0.524},{"s":"d","x":49,"y":0.522},{"s":"d","x":51,"y":0.525},{"s":"d","x":53,"y":0.546},{"s":"d","x":55,"y":0.535},{"s":"d","x":57,"y":0.528},{"s":"d","x":59,"y":0.525},{"s":"d","x":61,"y":0.539},{"s":"d","x":63,"y":0.548},{"s":"d","x":65,"y":0.554},{"s":"d","x":67,"y":0.559},{"s":"d","x":69,"y":0.545},{"s":"d","x":71,"y":0.532},{"s":"d","x":73,"y":0.535},{"s":"d","x":75,"y":0.54},{"s":"d","x":77,"y":0.544},{"s":"d","x":79,"y":0.546},{"s":"d","x":81,"y":0.535},{"s":"d","x":83,"y":0.525},{"s":"d","x":85,"y":0.546},{"s":"d","x":87,"y":0.546},{"s":"d","x":89,"y":0.548},{"s":"d","x":91,"y":0.556},{"s":"d","x":93,"y":0.55},{"s":"d","x":95,"y":0.539},{"s":"d","x":97,"y":0.559},{"s":"d","x":98,"y":0.555},{"s":"d","x":99,"y":0.545},
{"s":"e","x":1,"y":0.017},{"s":"e","x":3,"y":0.09},{"s":"e","x":5,"y":0.15},{"s":"e","x":7,"y":0.2},{"s":"e","x":9,"y":0.26},{"s":"e","x":11,"y":0.305},{"s":"e","x":13,"y":0.345},{"s":"e","x":15,"y":0.385},{"s":"e","x":17,"y":0.42},{"s":"e","x":19,"y":0.45},{"s":"e","x":21,"y":0.478},{"s":"e","x":23,"y":0.49},{"s":"e","x":25,"y":0.5},{"s":"e","x":27,"y":0.535},{"s":"e","x":29,"y":0.555},{"s":"e","x":31,"y":0.57},{"s":"e","x":33,"y":0.58},{"s":"e","x":35,"y":0.585},{"s":"e","x":37,"y":0.588},{"s":"e","x":39,"y":0.59},{"s":"e","x":41,"y":0.595},{"s":"e","x":43,"y":0.6},{"s":"e","x":45,"y":0.605},{"s":"e","x":47,"y":0.61},{"s":"e","x":49,"y":0.612},{"s":"e","x":51,"y":0.615},{"s":"e","x":53,"y":0.618},{"s":"e","x":55,"y":0.62},{"s":"e","x":57,"y":0.622},{"s":"e","x":59,"y":0.625},{"s":"e","x":61,"y":0.622},{"s":"e","x":63,"y":0.625},{"s":"e","x":65,"y":0.628},{"s":"e","x":67,"y":0.62},{"s":"e","x":69,"y":0.615},{"s":"e","x":71,"y":0.625},{"s":"e","x":73,"y":0.63},{"s":"e","x":75,"y":0.635},{"s":"e","x":77,"y":0.64},{"s":"e","x":79,"y":0.655},{"s":"e","x":81,"y":0.665},{"s":"e","x":83,"y":0.655},{"s":"e","x":85,"y":0.64},{"s":"e","x":87,"y":0.63},{"s":"e","x":89,"y":0.615},{"s":"e","x":91,"y":0.6},{"s":"e","x":93,"y":0.585},{"s":"e","x":95,"y":0.615},{"s":"e","x":97,"y":0.635},{"s":"e","x":99,"y":0.648}]
},
"columns":2,
"spacing":{"row":124,"column":117},
"bounds":"flush",
"concat":[
{"title":"Mutation cost","width":538,"height":393,
 "layer":[
  {"encoding":{
    "x":{"field":"x","type":"quantitative","scale":{"domain":[0,100],"nice":false,"zero":false},"axis":{"orient":"bottom","values":[0,10,20,30,40,50,60,70,80,90,100],"labelExpr":"datum.value % 20 === 0 ? toString(datum.value) : ''","tickSize":{"condition":{"test":"datum.value % 20 === 0","value":-16},"value":-8},"labelPadding":20,"title":"Year of epidemic","titlePadding":2}},
    "y":{"field":"y","type":"quantitative","scale":{"domain":[0,0.8],"nice":false,"reverse":true},"axis":{"orient":"left","values":[0,0.1,0.2,0.3,0.4,0.5,0.6,0.7,0.8],"labelExpr":"round(datum.value*10) % 2 === 0 ? toString(round(datum.value*10)/10) : ''","tickSize":{"condition":{"test":"round(datum.value*10) % 2 === 0","value":-16},"value":-8},"labelPadding":29,"title":"Preadaptation","titlePadding":4}}},
   "layer":[
    {"data":{"name":"p1"},"transform":[{"filter":"datum.s === 'a'"}],"mark":{"type":"line","color":"#9c9c9c","strokeWidth":3.2}},
    {"data":{"name":"p1"},"transform":[{"filter":"datum.s === 'b'"}],"mark":{"type":"line","color":"#9c9c9c","strokeWidth":3.2,"strokeDash":[14,8]}},
    {"data":{"name":"base"},"mark":{"type":"line","color":"black","strokeWidth":3}}
   ]},
  {"data":{"name":"base"},"mark":{"type":"line","strokeOpacity":0},
   "encoding":{
    "x":{"field":"x","type":"quantitative","scale":{"domain":[0,100],"nice":false,"zero":false},"axis":{"orient":"top","values":[0,10,20,30,40,50,60,70,80,90,100],"labels":false,"title":null,"tickSize":{"condition":{"test":"datum.value % 20 === 0","value":-16},"value":-8}}},
    "y":{"field":"y","type":"quantitative","scale":{"domain":[0,0.8],"nice":false,"reverse":true},"axis":{"orient":"right","values":[0,0.1,0.2,0.3,0.4,0.5,0.6,0.7,0.8],"labels":false,"title":null,"tickSize":{"condition":{"test":"round(datum.value*10) % 2 === 0","value":-16},"value":-8}}}}}
 ],
 "resolve":{"axis":{"x":"independent","y":"independent"}}},
{"title":"Number of relations","width":540,"height":393,
 "layer":[
  {"encoding":{
    "x":{"field":"x","type":"quantitative","scale":{"domain":[0,100],"nice":false,"zero":false},"axis":{"orient":"bottom","values":[0,10,20,30,40,50,60,70,80,90,100],"labelExpr":"datum.value % 20 === 0 ? toString(datum.value) : ''","tickSize":{"condition":{"test":"datum.value % 20 === 0","value":-16},"value":-8},"labelPadding":20,"title":"Year of epidemic","titlePadding":2}},
    "y":{"field":"y","type":"quantitative","scale":{"domain":[0,0.8],"nice":false,"reverse":true},"axis":{"orient":"left","values":[0,0.1,0.2,0.3,0.4,0.5,0.6,0.7,0.8],"labelExpr":"round(datum.value*10) % 2 === 0 ? toString(round(datum.value*10)/10) : ''","tickSize":{"condition":{"test":"round(datum.value*10) % 2 === 0","value":-16},"value":-8},"labelPadding":29,"title":"Preadaptation","titlePadding":4}}},
   "layer":[
    {"data":{"name":"p2"},"transform":[{"filter":"datum.s === 'c'"}],"mark":{"type":"line","color":"#9c9c9c","strokeWidth":3.2,"strokeDash":[3,10]}},
    {"data":{"name":"p2"},"transform":[{"filter":"datum.s === 'b'"}],"mark":{"type":"line","color":"#9c9c9c","strokeWidth":3.2,"strokeDash":[18,5]}},
    {"data":{"name":"p2"},"transform":[{"filter":"datum.s === 'a'"}],"mark":{"type":"line","color":"#9c9c9c","strokeWidth":3.2}},
    {"data":{"name":"base"},"mark":{"type":"line","color":"black","strokeWidth":3}}
   ]},
  {"data":{"name":"base"},"mark":{"type":"line","strokeOpacity":0},
   "encoding":{
    "x":{"field":"x","type":"quantitative","scale":{"domain":[0,100],"nice":false,"zero":false},"axis":{"orient":"top","values":[0,10,20,30,40,50,60,70,80,90,100],"labels":false,"title":null,"tickSize":{"condition":{"test":"datum.value % 20 === 0","value":-16},"value":-8}}},
    "y":{"field":"y","type":"quantitative","scale":{"domain":[0,0.8],"nice":false,"reverse":true},"axis":{"orient":"right","values":[0,0.1,0.2,0.3,0.4,0.5,0.6,0.7,0.8],"labels":false,"title":null,"tickSize":{"condition":{"test":"round(datum.value*10) % 2 === 0","value":-16},"value":-8}}}}}
 ],
 "resolve":{"axis":{"x":"independent","y":"independent"}}},
{"title":"Mutation rate","width":538,"height":393,
 "layer":[
  {"encoding":{
    "x":{"field":"x","type":"quantitative","scale":{"domain":[0,100],"nice":false,"zero":false},"axis":{"orient":"bottom","values":[0,10,20,30,40,50,60,70,80,90,100],"labelExpr":"datum.value % 20 === 0 ? toString(datum.value) : ''","tickSize":{"condition":{"test":"datum.value % 20 === 0","value":-16},"value":-8},"labelPadding":20,"title":"Year of epidemic","titlePadding":2}},
    "y":{"field":"y","type":"quantitative","scale":{"domain":[0,0.8],"nice":false,"reverse":true},"axis":{"orient":"left","values":[0,0.1,0.2,0.3,0.4,0.5,0.6,0.7,0.8],"labelExpr":"round(datum.value*10) % 2 === 0 ? toString(round(datum.value*10)/10) : ''","tickSize":{"condition":{"test":"round(datum.value*10) % 2 === 0","value":-16},"value":-8},"labelPadding":29,"title":"Preadaptation","titlePadding":4}}},
   "layer":[
    {"data":{"name":"p3"},"transform":[{"filter":"datum.s === 'a'"}],"mark":{"type":"line","color":"#9c9c9c","strokeWidth":3.2,"strokeDash":[3,10]}},
    {"data":{"name":"p3"},"transform":[{"filter":"datum.s === 'b'"}],"mark":{"type":"line","color":"#9c9c9c","strokeWidth":3.2,"strokeDash":[16,7,3,7,3,7]}},
    {"data":{"name":"p3"},"transform":[{"filter":"datum.s === 'c'"}],"mark":{"type":"line","color":"#9c9c9c","strokeWidth":3.2,"strokeDash":[18,8,3,8]}},
    {"data":{"name":"p3"},"transform":[{"filter":"datum.s === 'd'"}],"mark":{"type":"line","color":"#9c9c9c","strokeWidth":3.2,"strokeDash":[16,8]}},
    {"data":{"name":"p3"},"transform":[{"filter":"datum.s === 'e'"}],"mark":{"type":"line","color":"#9c9c9c","strokeWidth":3.2}},
    {"data":{"name":"base"},"mark":{"type":"line","color":"black","strokeWidth":3}}
   ]},
  {"data":{"name":"base"},"mark":{"type":"line","strokeOpacity":0},
   "encoding":{
    "x":{"field":"x","type":"quantitative","scale":{"domain":[0,100],"nice":false,"zero":false},"axis":{"orient":"top","values":[0,10,20,30,40,50,60,70,80,90,100],"labels":false,"title":null,"tickSize":{"condition":{"test":"datum.value % 20 === 0","value":-16},"value":-8}}},
    "y":{"field":"y","type":"quantitative","scale":{"domain":[0,0.8],"nice":false,"reverse":true},"axis":{"orient":"right","values":[0,0.1,0.2,0.3,0.4,0.5,0.6,0.7,0.8],"labels":false,"title":null,"tickSize":{"condition":{"test":"round(datum.value*10) % 2 === 0","value":-16},"value":-8}}}}}
 ],
 "resolve":{"axis":{"x":"independent","y":"independent"}}},
{"title":"Reversion rate","width":540,"height":393,
 "layer":[
  {"encoding":{
    "x":{"field":"x","type":"quantitative","scale":{"domain":[0,100],"nice":false,"zero":false},"axis":{"orient":"bottom","values":[0,10,20,30,40,50,60,70,80,90,100],"labelExpr":"datum.value % 20 === 0 ? toString(datum.value) : ''","tickSize":{"condition":{"test":"datum.value % 20 === 0","value":-16},"value":-8},"labelPadding":20,"title":"Year of epidemic","titlePadding":2}},
    "y":{"field":"y","type":"quantitative","scale":{"domain":[0,0.8],"nice":false,"reverse":true},"axis":{"orient":"left","values":[0,0.1,0.2,0.3,0.4,0.5,0.6,0.7,0.8],"labelExpr":"round(datum.value*10) % 2 === 0 ? toString(round(datum.value*10)/10) : ''","tickSize":{"condition":{"test":"round(datum.value*10) % 2 === 0","value":-16},"value":-8},"labelPadding":29,"title":"Preadaptation","titlePadding":4}}},
   "layer":[
    {"data":{"name":"base"},"mark":{"type":"line","color":"black","strokeWidth":3}},
    {"data":{"name":"p4"},"transform":[{"filter":"datum.s === 'e'"}],"mark":{"type":"line","color":"#9c9c9c","strokeWidth":3.2,"strokeDash":[3,10]}},
    {"data":{"name":"p4"},"transform":[{"filter":"datum.s === 'd'"}],"mark":{"type":"line","color":"#9c9c9c","strokeWidth":3.2,"strokeDash":[14,8,3,8]}},
    {"data":{"name":"p4"},"transform":[{"filter":"datum.s === 'c'"}],"mark":{"type":"line","color":"#9c9c9c","strokeWidth":3.2,"strokeDash":[14,8,3,8]}},
    {"data":{"name":"p4"},"transform":[{"filter":"datum.s === 'b'"}],"mark":{"type":"line","color":"#9c9c9c","strokeWidth":3.2,"strokeDash":[16,6]}},
    {"data":{"name":"p4"},"transform":[{"filter":"datum.s === 'a'"}],"mark":{"type":"line","color":"#9c9c9c","strokeWidth":3.2}}
   ]},
  {"data":{"name":"base"},"mark":{"type":"line","strokeOpacity":0},
   "encoding":{
    "x":{"field":"x","type":"quantitative","scale":{"domain":[0,100],"nice":false,"zero":false},"axis":{"orient":"top","values":[0,10,20,30,40,50,60,70,80,90,100],"labels":false,"title":null,"tickSize":{"condition":{"test":"datum.value % 20 === 0","value":-16},"value":-8}}},
    "y":{"field":"y","type":"quantitative","scale":{"domain":[0,0.8],"nice":false,"reverse":true},"axis":{"orient":"right","values":[0,0.1,0.2,0.3,0.4,0.5,0.6,0.7,0.8],"labels":false,"title":null,"tickSize":{"condition":{"test":"round(datum.value*10) % 2 === 0","value":-16},"value":-8}}}}}
 ],
 "resolve":{"axis":{"x":"independent","y":"independent"}}}
]
}
